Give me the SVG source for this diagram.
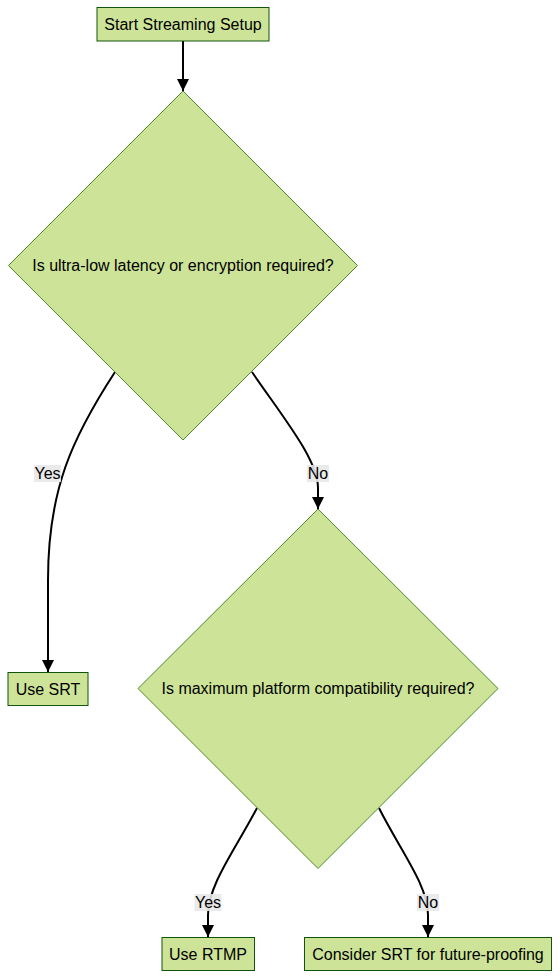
<svg xmlns="http://www.w3.org/2000/svg" width="560" height="978" viewBox="0 0 560 978">
<style>
.node{fill:#cde498;stroke:#13540c;stroke-width:1;}
.dia{fill:#cde498;stroke:#4a8a2a;stroke-width:1;}
.t{font-family:"Liberation Sans",Arial,sans-serif;font-size:16px;fill:#000;text-anchor:middle;dominant-baseline:central;}
.e{fill:none;stroke:#000;stroke-width:2;}
.lb{fill:#e8e8e8;opacity:0.9;}
</style>
<defs>
<marker id="arr" viewBox="0 0 10 10" refX="10" refY="5" markerWidth="6" markerHeight="6" markerUnits="strokeWidth" orient="auto">
<path d="M0,0 L10,5 L0,10 z" fill="#000"/>
</marker>
</defs>
<g id="connectors">
<path class="e" d="M183,41 L183,91" marker-end="url(#arr)"/>
<path class="e" d="M115,372 C72,438 48,490 48,580 L48,672" marker-end="url(#arr)"/>
<path class="e" d="M252,372 C285,420 318,460 318,488 L318,509" marker-end="url(#arr)"/>
<path class="e" d="M257,808 C235,850 208,885 208,915 L208,937" marker-end="url(#arr)"/>
<path class="e" d="M379,808 C400,850 428,885 428,915 L428,937" marker-end="url(#arr)"/>
<rect class="lb" x="34" y="465" width="27" height="17"/>
<text class="t" x="47.5" y="473.5">Yes</text>
<rect class="lb" x="307" y="465" width="22" height="17"/>
<text class="t" x="318" y="473.5">No</text>
<rect class="lb" x="194.5" y="894" width="27" height="17"/>
<text class="t" x="208" y="902.5">Yes</text>
<rect class="lb" x="417" y="894" width="22" height="17"/>
<text class="t" x="428" y="902.5">No</text>
</g>
<g id="start">
<rect class="node" x="97" y="7.5" width="172" height="33.5"/>
<text class="t" x="183" y="24">Start Streaming Setup</text>
</g>
<g id="q1">
<polygon class="dia" points="183,91 357.5,265.5 183,440 8.5,265.5"/>
<text class="t" x="183" y="265.5">Is ultra-low latency or encryption required?</text>
</g>
<g id="srt">
<rect class="node" x="8" y="672.5" width="80" height="33"/>
<text class="t" x="48" y="689">Use SRT</text>
</g>
<g id="q2">
<polygon class="dia" points="318,509 498,688.5 318,868.5 138,688.5"/>
<text class="t" x="318" y="688.5">Is maximum platform compatibility required?</text>
</g>
<g id="rtmp">
<rect class="node" x="162" y="937.5" width="92.5" height="33"/>
<text class="t" x="208" y="954">Use RTMP</text>
</g>
<g id="consider">
<rect class="node" x="304.5" y="937.5" width="247" height="33"/>
<text class="t" x="428" y="954">Consider SRT for future-proofing</text>
</g>
</svg>
